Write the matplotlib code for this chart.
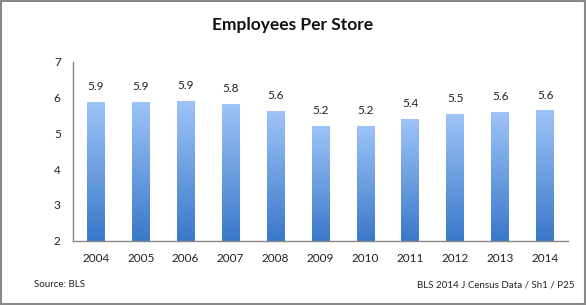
import matplotlib
matplotlib.use("Agg")
import matplotlib.pyplot as plt
import numpy as np
from matplotlib.colors import LinearSegmentedColormap
from matplotlib.patches import Rectangle

years = ["2004", "2005", "2006", "2007", "2008", "2009", "2010", "2011", "2012", "2013", "2014"]
values = [5.87, 5.87, 5.90, 5.82, 5.62, 5.20, 5.20, 5.40, 5.54, 5.59, 5.64]
labels = ["5.9", "5.9", "5.9", "5.8", "5.6", "5.2", "5.2", "5.4", "5.5", "5.6", "5.6"]
title = "Employees Per Store"
source = "Source: BLS"
ref = "BLS 2014 J Census Data / Sh1 / P25"

plt.rcParams['font.family'] = ['Lato', 'DejaVu Sans']

fig = plt.figure(figsize=(5.86, 3.05), dpi=100)
fig.patch.set_facecolor("white")
ax = fig.add_axes([0.125, 0.211, 0.844, 0.587])

x = np.arange(len(years))
bars = ax.bar(x, values, width=0.4, color="none", edgecolor="none", zorder=2)

cmap = LinearSegmentedColormap.from_list("g", ["#3A78C9", "#9EC4F8"])
grad = np.linspace(0, 1, 256).reshape(-1, 1)
for b in bars:
    bx, by = b.get_x(), b.get_y()
    w, h = b.get_width(), b.get_height()
    top = by + h
    im = ax.imshow(grad, extent=[bx, bx + w, 2, top], origin="lower", cmap=cmap,
                   aspect="auto", zorder=2)
    im.set_clip_path(b)

for xi, v, lab in zip(x, values, labels):
    ax.annotate(lab, (xi, v), xytext=(0, 7), textcoords="offset points",
                ha="center", va="bottom", fontsize=8.5, color="#222222")

ax.set_xlim(-0.5, len(years) - 0.5)
ax.set_ylim(2, 7)
ax.set_yticks([2, 3, 4, 5, 6, 7])
ax.set_xticks(x)
ax.set_xticklabels(years)
ax.tick_params(axis="both", length=0, labelsize=8.5, colors="#222222")
ax.tick_params(axis="x", pad=9)
ax.tick_params(axis="y", pad=9)
for s in ["top", "right"]:
    ax.spines[s].set_visible(False)
for s in ["left", "bottom"]:
    ax.spines[s].set_color("#888888")
    ax.spines[s].set_linewidth(1)

fig.text(0.5, 0.918, title, ha="center", va="center", fontsize=12.5, fontweight="bold", color="#111111")
fig.text(0.058, 0.067, source, ha="left", va="center", fontsize=7, color="#222222")
fig.text(0.98, 0.067, ref, ha="right", va="center", fontsize=7, color="#222222")

fig.add_artist(Rectangle((0.0015, 0.003), 0.997, 0.994, transform=fig.transFigure,
                         fill=False, edgecolor="#888888", linewidth=1.5))

fig.savefig("out.png", dpi=100, facecolor="white")
